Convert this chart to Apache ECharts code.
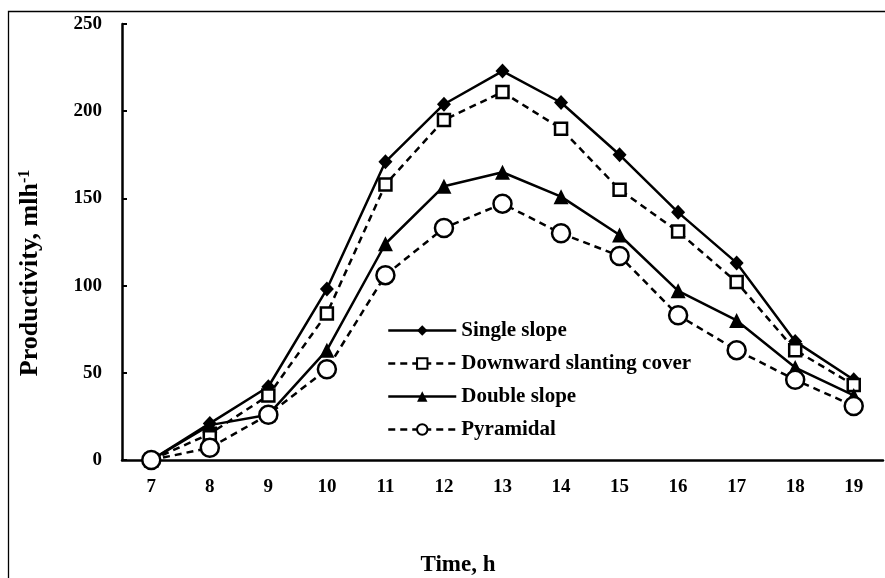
<!DOCTYPE html>
<html>
<head>
<meta charset="utf-8">
<script src="https://cdn.jsdelivr.net/npm/echarts@6/dist/echarts.min.js"></script>
<style>
html,body{margin:0;padding:0;background:#fff;}
#chart{width:885px;height:578px;}
</style>
</head>
<body>
<div id="chart"></div>
<script>
var hours = ['7','8','9','10','11','12','13','14','15','16','17','18','19'];
var singleSlope = [0, 21, 42, 98, 171, 204, 223, 205, 175, 142, 113, 68, 46];
var downwardSlanting = [0, 15, 37, 84, 158, 195, 211, 190, 155, 131, 102, 63, 43];
var doubleSlope = [0, 20, 26, 63, 124, 157, 165, 151, 129, 97, 80, 53, 37];
var pyramidal = [0, 7, 26, 52, 106, 133, 147, 130, 117, 83, 63, 46, 31];
var yTicks = {min: 0, max: 250, interval: 50};

var FONT = '"Liberation Serif", "Times New Roman", serif';
var chart = echarts.init(document.getElementById('chart'), null, {renderer: 'canvas'});
var lw = 2.5;
function mk(name, data, symbol, size, dashed, filled) {
  return {
    name: name, type: 'line', data: data,
    symbol: symbol, symbolSize: size, showSymbol: true,
    lineStyle: {color: '#000', width: lw, type: dashed ? [7, 5] : 'solid'},
    itemStyle: {color: filled ? '#000' : '#fff', borderColor: '#000', borderWidth: filled ? 0 : 2.5},
    emphasis: {disabled: true},
    z: 2
  };
}
chart.setOption({
  animation: false,
  backgroundColor: '#fff',
  grid: {left: 122, top: 24, right: 2, bottom: 118, containLabel: false},
  legend: {
    orient: 'vertical', left: 382, top: 315,
    itemWidth: 68, itemHeight: 13, itemGap: 12,
    lineStyle: {width: 2.5},
    textStyle: {fontFamily: FONT, fontWeight: 'bold', fontSize: 21, color: '#000'},
    data: ['Single slope', 'Downward slanting cover', 'Double slope', 'Pyramidal']
  },
  xAxis: {
    type: 'category', data: hours, boundaryGap: true,
    axisLine: {lineStyle: {color: '#000', width: 2.5}},
    axisTick: {inside: true, length: 5, lineStyle: {color: '#000', width: 2}},
    axisLabel: {fontFamily: FONT, fontWeight: 'bold', fontSize: 19, color: '#000', margin: 18},
    splitLine: {show: false}
  },
  yAxis: {
    type: 'value', min: yTicks.min, max: yTicks.max, interval: yTicks.interval,
    axisLine: {show: true, lineStyle: {color: '#000', width: 2.5}},
    axisTick: {show: true, inside: true, length: 5, lineStyle: {color: '#000', width: 2}},
    axisLabel: {fontFamily: FONT, fontWeight: 'bold', fontSize: 19, color: '#000', margin: 20},
    splitLine: {show: false}
  },
  graphic: [
    {type: 'rect', silent: true, shape: {x: 8.5, y: 11.5, width: 1000, height: 1000},
     style: {fill: 'none', stroke: '#000', lineWidth: 1.3}, z: -10},
    {type: 'text', silent: true, x: 30, y: 273, rotation: Math.PI / 2,
     style: {text: '{a|Productivity, mlh}{s|-1}', textAlign: 'center', textVerticalAlign: 'middle',
       rich: {a: {fontFamily: FONT, fontWeight: 'bold', fontSize: 26, fill: '#000', color: '#000'},
              s: {fontFamily: FONT, fontWeight: 'bold', fontSize: 16, fill: '#000', color: '#000', verticalAlign: 'top', padding: [0, 0, 11, 0]}}}},
    {type: 'text', silent: true, x: 458, y: 565,
     style: {text: 'Time, h', font: 'bold 23px ' + FONT, fill: '#000', textAlign: 'center', textVerticalAlign: 'middle'}}
  ],
  series: [
    mk('Single slope', singleSlope, 'diamond', [14, 15], false, true),
    mk('Downward slanting cover', downwardSlanting, 'rect', 12, true, false),
    mk('Double slope', doubleSlope, 'triangle', 15, false, true),
    mk('Pyramidal', pyramidal, 'circle', 18, true, false)
  ]
});
</script>
</body>
</html>
